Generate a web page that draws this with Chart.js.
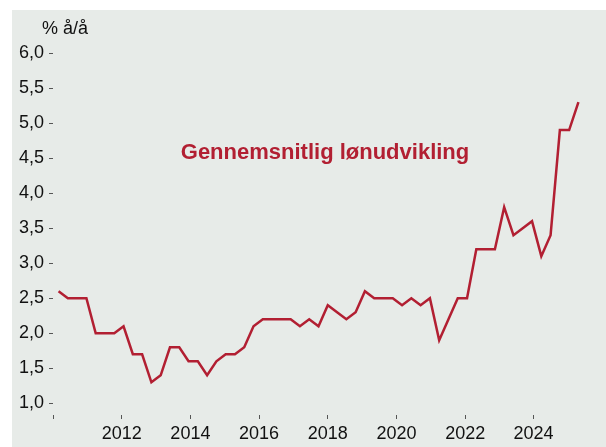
<!DOCTYPE html>
<html>
<head>
<meta charset="utf-8">
<script src="https://cdn.jsdelivr.net/npm/chart.js@4"></script>
<style>
    html, body { margin: 0; padding: 0; background: #fff; }
    #wrap { position: absolute; left: 12px; top: 10px; width: 594px; height: 437px; background: #e7ebe8; }
</style>
</head>
<body>
<div id="wrap"><canvas id="chart" width="594" height="437"></canvas></div>
<script>
// quarterly wage growth, % y/y (2010 Q1 - 2024 Q1)
var wageGrowth = [2.6, 2.5, 2.5, 2.5, 2.0, 2.0, 2.0, 2.1, 1.7, 1.7,
    1.3, 1.4, 1.8, 1.8, 1.6, 1.6, 1.4, 1.6, 1.7, 1.7,
    1.8, 2.1, 2.2, 2.2, 2.2, 2.2, 2.1, 2.2, 2.1, 2.4,
    2.3, 2.2, 2.3, 2.6, 2.5, 2.5, 2.5, 2.4, 2.5, 2.4,
    2.5, 1.9, 2.2, 2.5, 2.5, 3.2, 3.2, 3.2, 3.8, 3.4,
    3.5, 3.6, 3.1, 3.4, 4.9, 4.9, 5.3];

// x tick positions (in quarter index units) and their labels
var xTickPos = [-0.6, 6.8, 14.2, 21.6, 29.0, 36.4, 43.8, 51.15];
var xTickLabels = ['', '2012', '2014', '2016', '2018', '2020', '2022', '2024'];
var yTicks = [1.0, 1.5, 2.0, 2.5, 3.0, 3.5, 4.0, 4.5, 5.0, 5.5, 6.0];

var seriesLabel = 'Gennemsnitlig lønudvikling';
var unitLabel = '% å/å';

var red = '#b21f32';
var font = 'Liberation Sans, Arial, sans-serif';

var textPlugin = {
    id: 'texts',
    afterDraw: function (chart) {
        var ctx = chart.ctx;
        var xs = chart.scales.x, ys = chart.scales.y;
        ctx.save();
        // series name inside the plot
        ctx.fillStyle = red;
        ctx.font = 'bold 22px ' + font;
        ctx.textAlign = 'center';
        ctx.textBaseline = 'middle';
        ctx.fillText(seriesLabel, xs.getPixelForValue(28.7), ys.getPixelForValue(4.57));
        // unit above the y axis
        ctx.fillStyle = '#111';
        ctx.font = '18px ' + font;
        ctx.textAlign = 'left';
        ctx.fillText(unitLabel, chart.chartArea.left - 11, ys.getPixelForValue(6.0) - 24);
        ctx.restore();
    }
};

var ctx = document.getElementById('chart').getContext('2d');
var chart = new Chart(ctx, {
    type: 'line',
    data: {
        datasets: [{
            label: seriesLabel,
            data: wageGrowth.map((v, i) => ({ x: i, y: v })),
            borderColor: red,
            borderWidth: 2.5,
            pointRadius: 0,
            tension: 0,
            fill: false
        }]
    },
    options: {
        responsive: false,
        animation: false,
        layout: { padding: { top: 36, right: 9, left: 0, bottom: 0 } },
        plugins: { legend: { display: false }, tooltip: { enabled: false } },
        scales: {
            x: {
                type: 'linear',
                min: -0.6,
                max: 58,
                afterBuildTicks: s => { s.ticks = xTickPos.map(v => ({ value: v })); },
                afterFit: s => { s.height = 32; },
                grid: { drawOnChartArea: false, tickLength: 4, color: '#555' },
                border: { display: false },
                ticks: {
                    autoSkip: false,
                    maxRotation: 0,
                    padding: 4,
                    color: '#111',
                    font: { family: font, size: 18 },
                    callback: (v, i) => xTickLabels[i]
                }
            },
            y: {
                min: 0.833,
                max: 6.1,
                afterBuildTicks: s => { s.ticks = yTicks.map(v => ({ value: v })); },
                afterFit: s => { s.width = 41; },
                grid: { drawOnChartArea: false, tickLength: 4, color: '#555' },
                border: { display: false },
                ticks: {
                    padding: 5,
                    color: '#111',
                    font: { family: font, size: 18 },
                    callback: v => v.toFixed(1).replace('.', ',')
                }
            }
        }
    },
    plugins: [textPlugin]
});
</script>
</body>
</html>
